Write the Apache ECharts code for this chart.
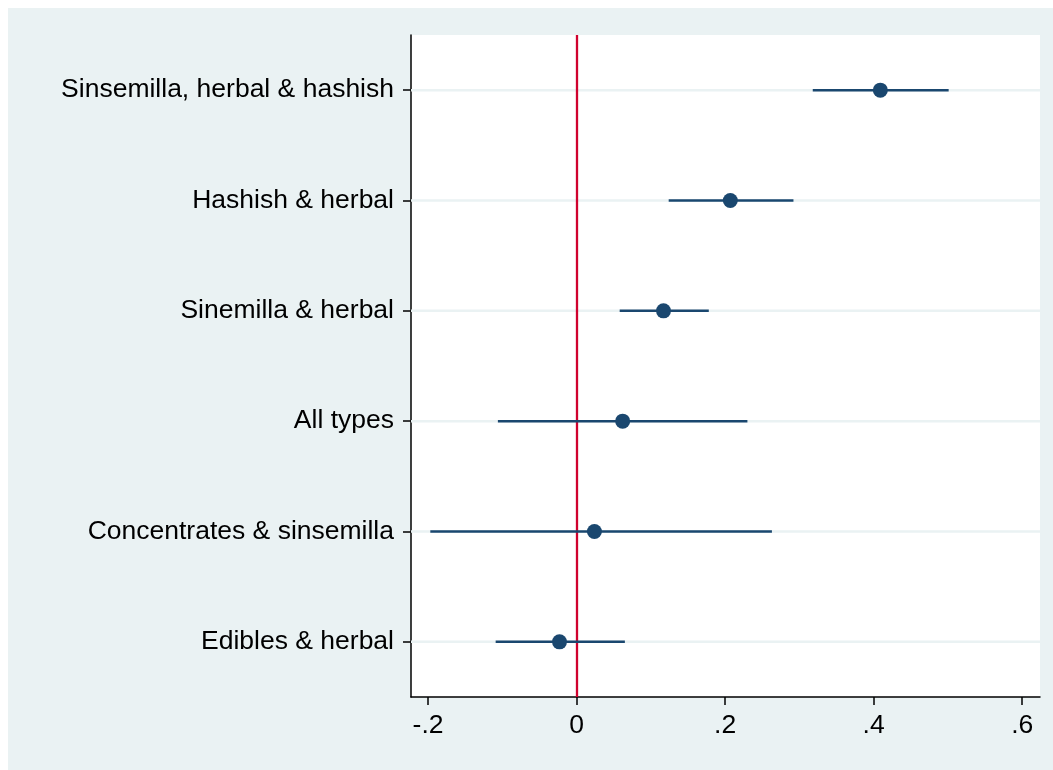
<!DOCTYPE html>
<html>
<head>
<meta charset="utf-8">
<script src="https://cdn.jsdelivr.net/npm/echarts@6/dist/echarts.min.js"></script>
<style>
html,body{margin:0;padding:0;background:#fff;}
#c{width:1053px;height:770px;}
</style>
</head>
<body>
<div id="c"></div>
<script>
const categories = ["Sinsemilla, herbal & hashish","Hashish & herbal","Sinemilla & herbal","All types","Concentrates & sinsemilla","Edibles & herbal"];
const estimates = [0.409, 0.207, 0.117, 0.062, 0.024, -0.023];
const lower = [0.318, 0.124, 0.058, -0.106, -0.197, -0.109];
const upper = [0.501, 0.292, 0.178, 0.230, 0.263, 0.065];
const xTicks = [-0.2, 0, 0.2, 0.4, 0.6];
const xMin = -0.223, xMax = 0.624;
const refLine = 0;

const navy = '#1A476F';
const font = '"Liberation Sans", Arial, sans-serif';

function fmt(v){
  const r = Math.round(v*10)/10;
  if (r === 0) return '0';
  let s = String(r);
  return s.replace(/^(-?)0\./, '$1.');
}

const chart = echarts.init(document.getElementById('c'), null, {renderer:'canvas'});
chart.setOption({
  backgroundColor:'#ffffff',
  animation:false,
  graphic:[{type:'rect', z:-10, shape:{x:8,y:8,width:1045,height:762}, style:{fill:'#EAF2F3'}}],
  grid:{left:411, right:13, top:35, bottom:73, show:true, backgroundColor:'#ffffff', borderWidth:0},
  xAxis:{
    type:'value', min:xMin, max:xMax,
    axisLine:{show:true, onZero:false, lineStyle:{color:'#000', width:1.5}},
    axisTick:{show:true, customValues:xTicks, length:8, lineStyle:{color:'#000', width:1.5}},
    axisLabel:{show:true, customValues:xTicks, formatter:fmt, margin:15, color:'#000', fontSize:26.5, fontFamily:font},
    splitLine:{show:false}
  },
  yAxis:{
    type:'category', data:categories, inverse:true,
    axisLine:{show:true, onZero:false, lineStyle:{color:'#000', width:1.5}},
    axisTick:{show:true, alignWithLabel:true, length:8, lineStyle:{color:'#000', width:1.5}},
    axisLabel:{margin:17, color:'#000', fontSize:26.5, fontFamily:font, padding:[4,0,0,0]},
    splitLine:{show:false}
  },
  series:[
    {
      type:'custom', z:1, silent:true,
      data: categories.map((c,i)=>[refLine, c]),
      renderItem:function(params, api){
        const y = api.coord([api.value(0), api.value(1)])[1];
        const cs = params.coordSys;
        return {type:'line', shape:{x1:cs.x, y1:y, x2:cs.x+cs.width, y2:y}, style:{stroke:'#EAF2F3', lineWidth:2.5}};
      }
    },
    {
      type:'custom', z:3, silent:true,
      data: categories.map((c,i)=>[lower[i], c, upper[i]]),
      renderItem:function(params, api){
        const p1 = api.coord([api.value(0), api.value(1)]);
        const p2 = api.coord([api.value(2), api.value(1)]);
        return {type:'line', shape:{x1:p1[0], y1:p1[1], x2:p2[0], y2:p2[1]}, style:{stroke:navy, lineWidth:2.5}};
      },
      markLine:{
        silent:true, symbol:'none', z:2,
        label:{show:false},
        lineStyle:{color:'#D0022E', width:2.3, type:'solid'},
        data:[{xAxis:refLine}]
      }
    },
    {
      type:'scatter', z:4, silent:true,
      data: categories.map((c,i)=>[estimates[i], c]),
      symbol:'circle', symbolSize:15,
      itemStyle:{color:navy, opacity:1}
    }
  ]
});
</script>
</body>
</html>
